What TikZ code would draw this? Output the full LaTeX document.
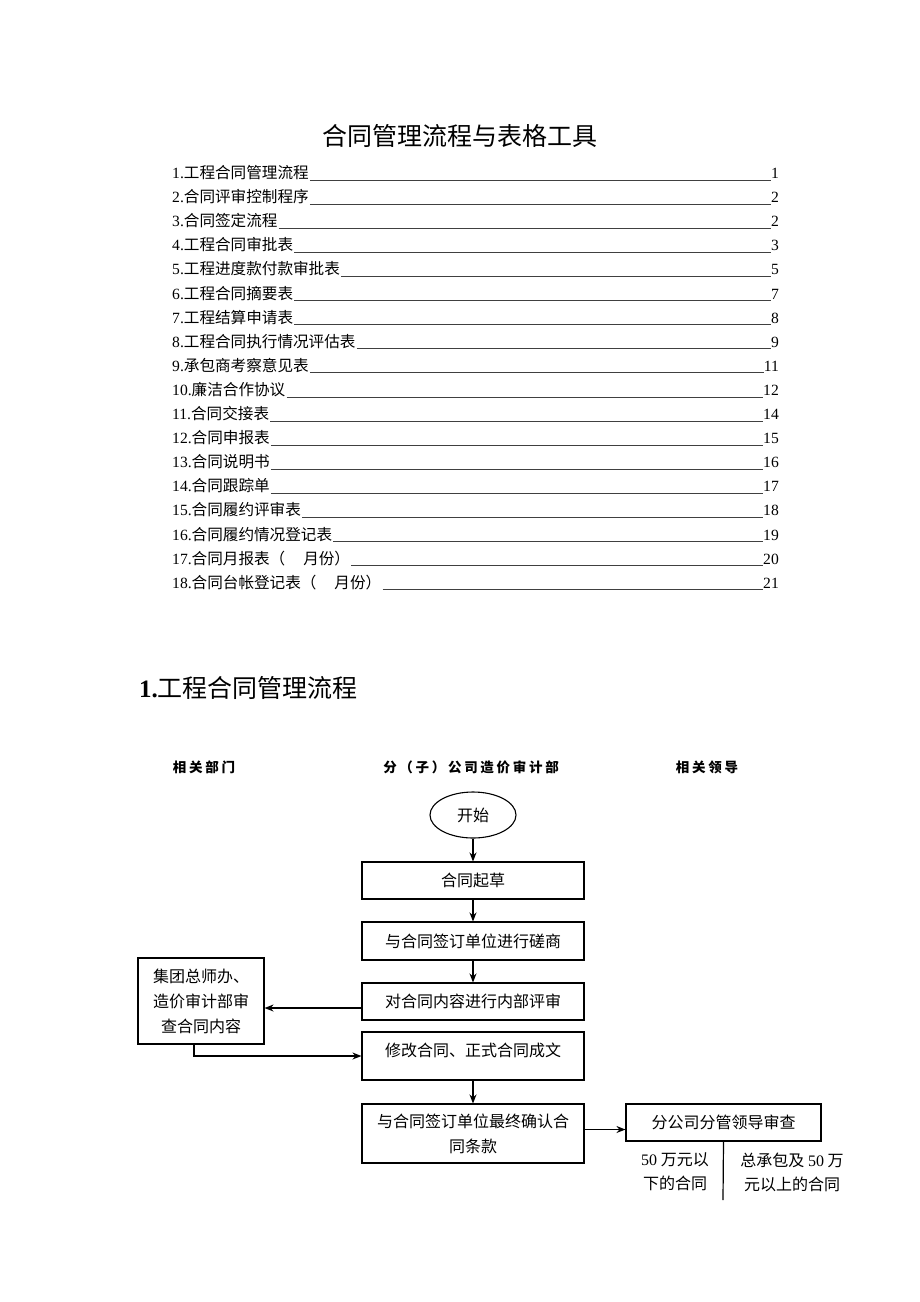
\documentclass[tikz,border=0pt]{standalone}
\usepackage{fontspec}
\setmainfont{Liberation Serif}
\newfontfamily\cjk{Noto Sans CJK SC}
\newfontfamily\cjkhd[LetterSpace=20]{Noto Sans CJK SC}
\usepackage{tikz}
\usetikzlibrary{positioning}
\usetikzlibrary{arrows.meta,shapes}
\usetikzlibrary{calc}

\begin{document}
\begin{tikzpicture}[x=1pt,y=-1pt, auto,
   box/.style={draw, line width=1.1pt, minimum width=222pt, minimum height=37pt, inner sep=2pt, align=center, font=\cjk\fontsize{16}{25}\selectfont},
   flow/.style={-{Stealth[length=9pt,width=7pt]}, line width=1.2pt},
   hdr/.style={font=\cjkhd\bfseries\fontsize{13.5}{15}\selectfont},
   toc/.style={anchor=base west, inner sep=0pt, font=\fontsize{15.6}{20}\selectfont},
   pg/.style={anchor=base east, inner sep=0pt, font=\fontsize{15.6}{20}\selectfont}]

 \useasboundingbox (0,0) rectangle (920,1302);

	%title
 \node[font=\cjk\fontsize{25}{28}\selectfont] (title) at (460,136) {合同管理流程与表格工具};

	%contents
 \def\dy{24.1};
    \foreach \i/\name/\num in {1/工程合同管理流程/1, 2/合同评审控制程序/2, 3/合同签定流程/2, 4/工程合同审批表/3,
        5/工程进度款付款审批表/5, 6/工程合同摘要表/7, 7/工程结算申请表/8, 8/工程合同执行情况评估表/9,
        9/承包商考察意见表/11, 10/廉洁合作协议/12, 11/合同交接表/14, 12/合同申报表/15, 13/合同说明书/16,
        14/合同跟踪单/17, 15/合同履约评审表/18, 16/合同履约情况登记表/19,
        17/{合同月报表（\hspace{18pt}月份）\hspace{8pt}}/20, 18/{合同台帐登记表（\hspace{18pt}月份）\hspace{8pt}}/21}{
         \node[toc] (t\i) at (172, 178.5 + \i*\dy - \dy) {\i.{\cjk\name}};
         \node[pg] (p\i) at (779, 178.5 + \i*\dy - \dy) {\num};
         \draw[line width=0.8pt, black!75] ([shift={(1pt,-1.5pt)}]t\i.base east) -- ([yshift=-1.5pt]p\i.base west);
    }

	%section
 \node[anchor=west, inner sep=0pt, font=\fontsize{25}{30}\selectfont] (sec) at (139,688) {\textbf{1.}{\cjk 工程合同管理流程}};

	%column heads
 \node[hdr] (h1) at (204,767) {相关部门};
 \node[hdr] (h2) at (471,767) {分（子）公司造价审计部};
 \node[hdr] (h3) at (707,767) {相关领导};

	%flow
 \node[draw, ellipse, line width=1.1pt, minimum width=86pt, minimum height=46pt, font=\cjk\fontsize{16}{20}\selectfont] (start) at (473,815) {开始};
 \node[box] (b1) at (473,880.5) {合同起草};
 \node[box, minimum height=38pt] (b2) at (473,941) {与合同签订单位进行磋商};
 \node[box] (b3) at (473,1001.5) {对合同内容进行内部评审};
 \node[box, minimum height=48pt, text height=13pt, text depth=13pt] (b4) at (473,1056) {修改合同、正式合同成文};
 \node[box, minimum height=59pt] (b5) at (473,1133.5) {与合同签订单位最终确认合\\同条款};
 \node[box, minimum width=126pt, minimum height=86pt] (dept) at (201,1001) {集团总师办、\\造价审计部审\\查合同内容};
 \node[box, minimum width=195pt] (lead) at (723.5,1122.5) {分公司分管领导审查};
 \coordinate (end) at (723,1200);

 \node[align=center, font=\cjk\fontsize{16}{24}\selectfont] (lo) at (675,1172) {{\rmfamily 50} 万元以\\下的合同};
 \node[align=center, font=\cjk\fontsize{16}{24}\selectfont] (hi) at (792,1172) {总承包及 {\rmfamily 50} 万\\元以上的合同};

 \draw[flow] (start) -- (b1);
 \draw[flow] (b1) -- (b2);
 \draw[flow] (b2) -- (b3);
 \draw[flow] ([yshift=-6.5pt]b3.west) -- ([yshift=-6.5pt]b3.west -| dept.east);
 \draw[flow] ([xshift=-7pt]dept.south) |- (b4.west);
 \draw[flow] (b4) -- (b5);
 \draw[flow] ([yshift=4pt]b5.east) -- ([yshift=4pt]b5.east -| lead.west);
 \draw[line width=1.2pt] (lead.south) -- (end);

\end{tikzpicture}
\end{document}
